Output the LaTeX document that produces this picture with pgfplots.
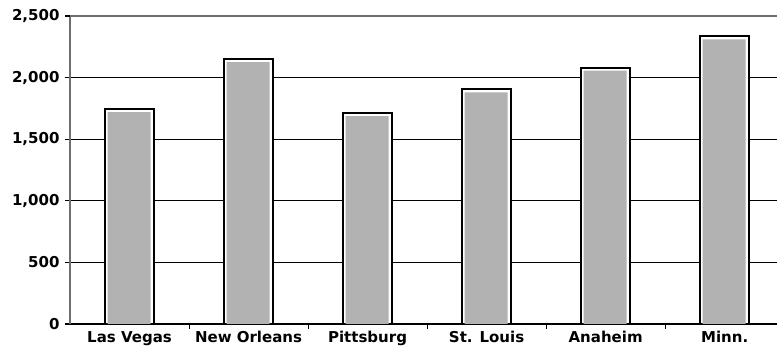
\documentclass[border=0pt]{standalone}
\usepackage{fontspec}
\setmainfont{DejaVu Sans}
\usepackage{pgfplots}
\pgfplotsset{compat=1.18}
\definecolor{barfill}{HTML}{B2B2B2}
\definecolor{axisgrey}{HTML}{6E6E6E}

\begin{document}
\begin{tikzpicture}
\path[use as bounding box] (-70bp,-26bp) rectangle (707bp,324bp);
\begin{axis}[
  scale only axis,
  width=707bp, height=308bp,
  xmin=-0.5, xmax=5.44,
  ymin=0, ymax=2500,
  ytick={0,500,...,2000},
  extra y ticks={2500},
  extra y tick style={grid=none},
  xtick={0,...,5},
  xticklabels={Las Vegas, New Orleans, Pittsburg, St. Louis, Anaheim, Minn.},
  minor xtick={0.5,1.5,...,4.5},
  tick align=outside,
  major tick length=5bp,
  minor tick length=5bp,
  major x tick style={draw=none},
  minor x tick style={black, line width=1bp},
  ytick style={black, line width=1.3bp},
  ymajorgrids,
  major grid style={black, line width=1.3bp},
  axis x line*=bottom,
  axis y line*=left,
  x axis line style={black, line width=1.5bp, -},
  y axis line style={axisgrey, line width=2.6bp, -},
  ticklabel style={font=\fontsize{15bp}{18bp}\selectfont\bfseries},
  yticklabel style={xshift=-2bp},
  xticklabel style={yshift=1bp},
  /pgf/number format/.cd, 1000 sep={,}, assume math mode=true,
]
% dark outline of each column
\addplot[ybar, bar width=49bp, bar shift=0pt, fill=white, draw=black, line width=2bp]
  coordinates {(0,1745) (1,2150) (2,1712) (3,1905) (4,2080) (5,2335)};
% grey face inset inside the outline
\addplot[ybar, bar width=43bp, bar shift=-0.5bp, fill=barfill, draw=none, yshift=-3bp]
  coordinates {(0,1745) (1,2150) (2,1712) (3,1905) (4,2080) (5,2335)};
% top border of the plotting area
\draw[axisgrey, line width=2.6bp] (rel axis cs:0,1) -- (rel axis cs:1,1);
\end{axis}
\end{tikzpicture}
\end{document}
